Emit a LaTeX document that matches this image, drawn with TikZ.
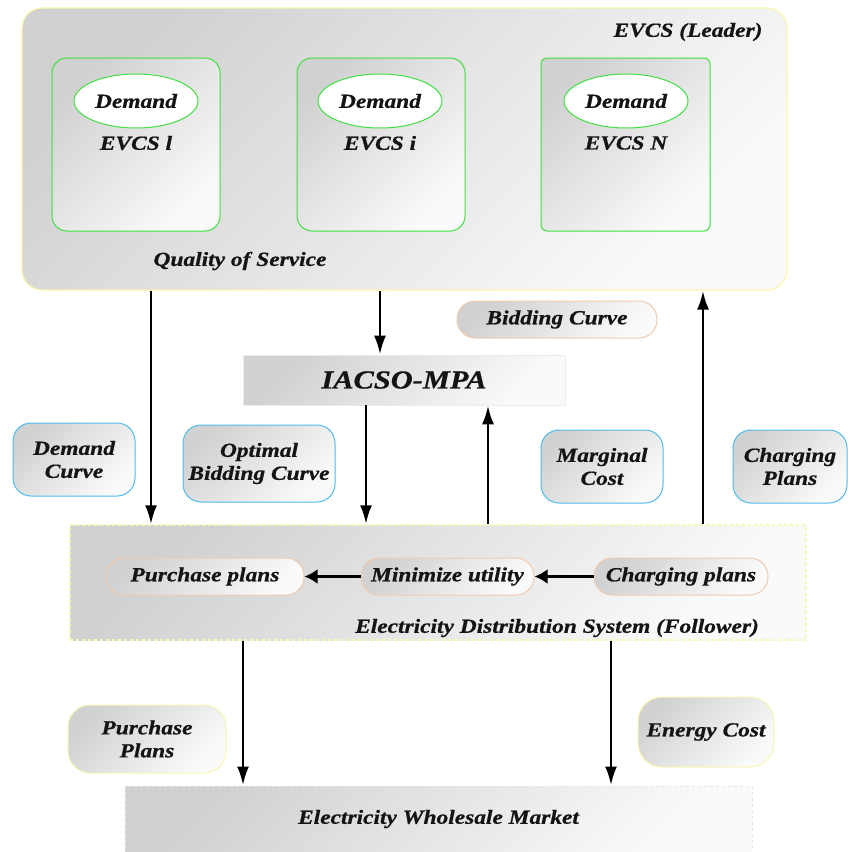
\documentclass[tikz,border=0pt]{standalone}
\usepackage{fontspec}
\setmainfont{Liberation Serif}[FakeStretch=1.17, BoldItalicFeatures={FakeBold=0.7}]
\usetikzlibrary{arrows.meta,shapes.geometric}
\definecolor{txt}{HTML}{141414}
\definecolor{grn}{HTML}{3FE03F}
\definecolor{yel}{HTML}{FAF7B0}
\definecolor{org}{HTML}{F2CBAE}
\definecolor{blu}{HTML}{4DBDEB}
\begin{document}
\begin{tikzpicture}[x=1pt,y=-1pt,
  every node/.style={text=txt, font=\bfseries\itshape\fontsize{20}{23}\selectfont, align=center, inner sep=0pt},
  gshade/.style={left color=black!18, right color=black!2, shading angle=45},
  outerbox/.style={gshade, draw=yel, line width=1.2pt, rounded corners=20pt},
  station/.style={gshade, draw=grn, line width=1pt, minimum width=168pt, minimum height=173pt},
  dem/.style={ellipse, fill=white, draw=grn, line width=1pt, minimum width=124pt, minimum height=54pt},
  lblbox/.style={gshade, line width=1pt, rounded corners=18pt},
  plainbox/.style={gshade, draw=black!8, line width=0.6pt},
  arr/.style={line width=2.9pt, -{Latex[length=19pt,width=12pt]}},
  harr/.style={line width=3.8pt, -{Latex[length=13pt,width=15pt]}}
]
\useasboundingbox (0,0) rectangle (848,852);

% EVCS leader
\node[outerbox, minimum width=765pt, minimum height=282pt] (evcs) at (404.5,149) {};
\node (lead) at (688,32) {EVCS (Leader)};
\node[station, rounded corners=15pt] (s1) at (136,144.5) {};
\node[station, rounded corners=15pt] (s2) at (381,144.5) {};
\node[station, rounded corners=6pt, minimum width=169pt] (s3) at (625.5,144.5) {};
\node[dem] (d1) at (136,101) {Demand};
\node[dem] (d2) at (380,101) {Demand};
\node[dem] (d3) at (626,101) {Demand};
\node (e1) at (136,143) {EVCS l};
\node (e2) at (380,143) {EVCS i};
\node (e3) at (626,143) {EVCS N};
\node (qos) at (240,261) {Quality of Service};

% middle
\node[plainbox, minimum width=322pt, minimum height=50pt, font=\bfseries\itshape\fontsize{26}{28}\selectfont] (mpa) at (404,380) {IACSO-MPA};
\node[lblbox, draw=org, minimum width=200pt, minimum height=37pt] (bid) at (557,319.5) {Bidding Curve};
\node[lblbox, draw=blu, minimum width=122pt, minimum height=73pt] (dc) at (74,459.5) {Demand\\Curve};
\node[lblbox, draw=blu, minimum width=152pt, minimum height=77pt] (obc) at (259,463.5) {Optimal\\Bidding Curve};
\node[lblbox, draw=blu, minimum width=122pt, minimum height=73pt] (mc) at (602,466.5) {Marginal\\Cost};
\node[lblbox, draw=blu, minimum width=114pt, minimum height=73pt] (cp) at (790,466.5) {Charging\\Plans};

% EDS follower
\node[gshade, draw=yel, dashed, line width=1.4pt, minimum width=736pt, minimum height=115pt] (eds) at (438,582.5) {};
\node (edsl) at (557,628) {Electricity Distribution System (Follower)};
\node[lblbox, draw=org, minimum width=198pt, minimum height=37pt] (pp) at (205,576.5) {Purchase plans};
\node[lblbox, draw=org, minimum width=173pt, minimum height=37pt] (mu) at (447.5,576.5) {Minimize utility};
\node[lblbox, draw=org, minimum width=174pt, minimum height=37pt] (chp) at (681,576.5) {Charging plans};

% bottom
\node[lblbox, draw=yel, minimum width=158pt, minimum height=68pt, rounded corners=22pt] (ppl) at (147,739) {Purchase\\Plans};
\node[lblbox, draw=yel, minimum width=136pt, minimum height=70pt, rounded corners=24pt] (ec) at (706,732) {Energy Cost};
\node[gshade, draw=black!10, dashed, line width=1pt, minimum width=627pt, minimum height=66pt] (ewm) at (438.5,819) {Electricity Wholesale Market};

% arrow columns
\coordinate (c1) at (151,0);
\coordinate (c2) at (380,0);
\coordinate (c3) at (703,0);
\coordinate (c4) at (366,0);
\coordinate (c5) at (488,0);
\coordinate (c6) at (243,0);
\coordinate (c7) at (611,0);

\draw[arr] (evcs.south -| c1) -- (eds.north -| c1);
\draw[arr] (evcs.south -| c2) -- (mpa.north -| c2);
\draw[arr] (eds.north -| c3) -- (evcs.south -| c3);
\draw[arr] (mpa.south -| c4) -- (eds.north -| c4);
\draw[arr] (eds.north -| c5) -- (mpa.south -| c5);
\draw[arr] (eds.south -| c6) -- (ewm.north -| c6);
\draw[arr] (eds.south -| c7) -- (ewm.north -| c7);
\draw[harr] (mu.west) -- (pp.east);
\draw[harr] (chp.west) -- (mu.east);
\end{tikzpicture}
\end{document}
